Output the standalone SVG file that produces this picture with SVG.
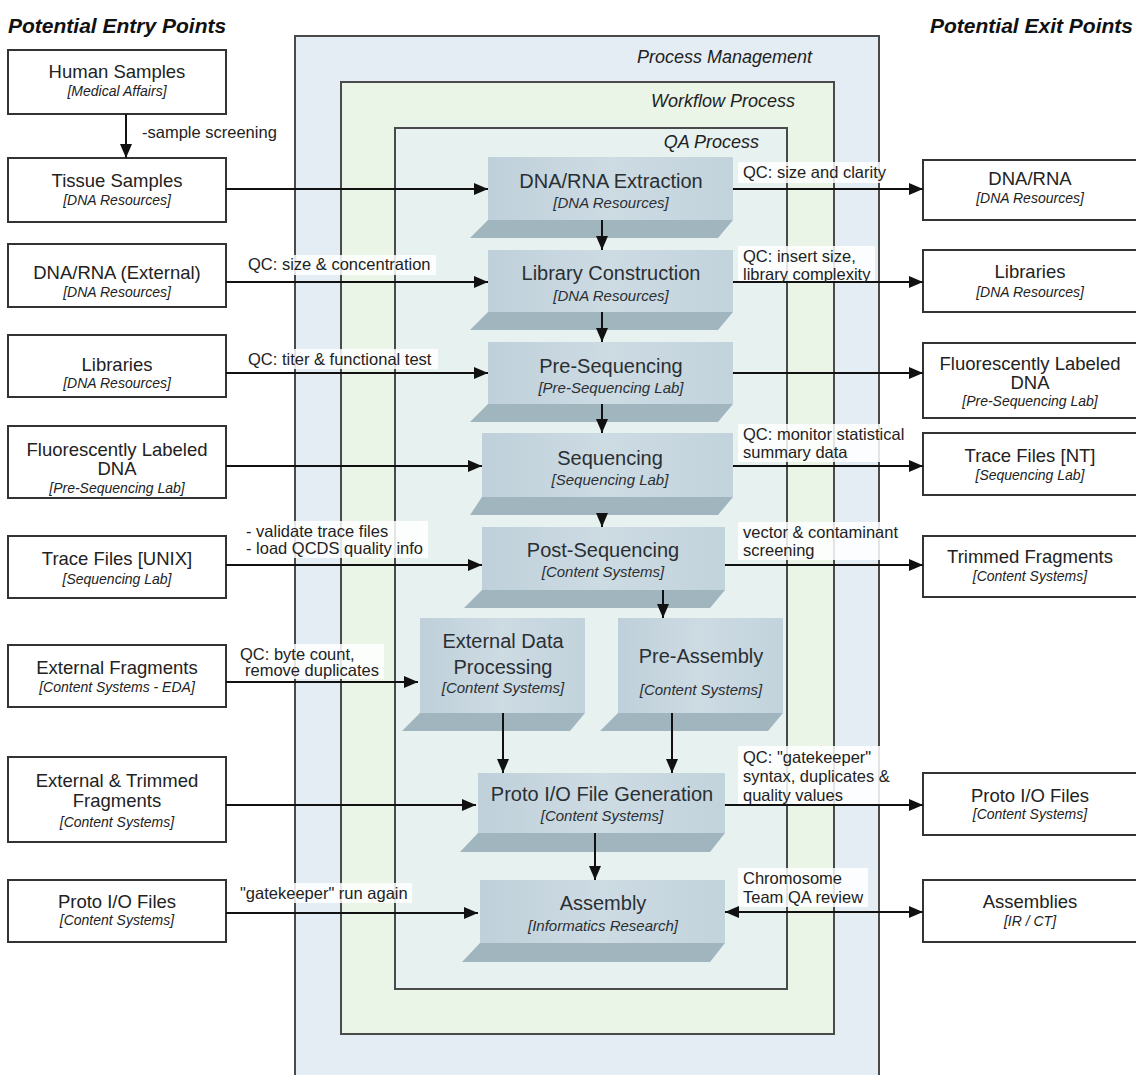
<svg xmlns="http://www.w3.org/2000/svg" width="1136" height="1075" viewBox="0 0 1136 1075">
<defs>
<marker id="ah" viewBox="0 0 14 12" refX="14" refY="6" markerWidth="14" markerHeight="12" orient="auto-start-reverse" markerUnits="userSpaceOnUse"><path d="M0,0 L14,6 L0,12 z" fill="#111"/></marker>
<linearGradient id="face" x1="0" y1="0" x2="1" y2="0"><stop offset="0" stop-color="#bfd0da"/><stop offset="0.5" stop-color="#cddbe3"/><stop offset="1" stop-color="#c2d3dc"/></linearGradient>
</defs>
<style>
text{font-family:"Liberation Sans",Arial,Helvetica,sans-serif;fill:#222}
.hdr{font-size:21px;font-weight:bold;font-style:italic;fill:#111}
.ctl{font-size:18px;font-style:italic;text-anchor:end}
.box{fill:#fff;stroke:#333;stroke-width:2}
.t{font-size:18.5px;text-anchor:middle}
.s{font-size:14px;font-style:italic;text-anchor:middle}
.pt{font-size:20px;text-anchor:middle;fill:#2a2f33}
.ps{font-size:15px;font-style:italic;text-anchor:middle;fill:#2a2f33}
.face{fill:url(#face)}
.shadow{fill:#a1b5bf}
.ln{stroke:#111;stroke-width:2;fill:none;marker-end:url(#ah)}
.lbl{font-size:16.5px}
.bg{fill:#fff;opacity:0.85}
</style>
<rect width="1136" height="1075" fill="#fff"/>
<g id="containers">
<rect x="295" y="36" width="584" height="1060" fill="#e4edf4" stroke="#4a4a4a" stroke-width="2"/>
<rect x="341" y="82" width="493" height="952" fill="#eaf4e7" stroke="#4a4a4a" stroke-width="2"/>
<rect x="395" y="128" width="392" height="861" fill="#e6f1f0" stroke="#4a4a4a" stroke-width="2"/>
<text class="ctl" x="812" y="63">Process Management</text>
<text class="ctl" x="795" y="107">Workflow Process</text>
<text class="ctl" x="759" y="148">QA Process</text>
</g>
<text class="hdr" x="8" y="33">Potential Entry Points</text>
<text class="hdr" x="1133" y="33" text-anchor="end">Potential Exit Points</text>
<g id="label-bgs">
<rect class="bg" x="244" y="255" width="192" height="20"/>
<rect class="bg" x="244" y="349" width="194" height="20"/>
<rect class="bg" x="242" y="521" width="186" height="37"/>
<rect class="bg" x="236" y="644" width="148" height="35"/>
<rect class="bg" x="236" y="883" width="176" height="20"/>
<rect class="bg" x="738" y="162" width="152" height="21"/>
<rect class="bg" x="738" y="246" width="137" height="36"/>
<rect class="bg" x="738" y="424" width="170" height="38"/>
<rect class="bg" x="738" y="522" width="162" height="38"/>
<rect class="bg" x="738" y="746" width="154" height="59"/>
<rect class="bg" x="738" y="868" width="130" height="39"/>
</g>
<g id="entry-human"><rect class="box" x="8" y="50" width="218" height="64"/><text class="t" x="117" y="78">Human Samples</text><text class="s" x="117" y="96">[Medical Affairs]</text></g>
<g id="entry-tissue"><rect class="box" x="8" y="158" width="218" height="64"/><text class="t" x="117" y="187">Tissue Samples</text><text class="s" x="117" y="205">[DNA Resources]</text></g>
<g id="entry-dnarna"><rect class="box" x="8" y="244" width="218" height="63"/><text class="t" x="117" y="279">DNA/RNA (External)</text><text class="s" x="117" y="297">[DNA Resources]</text></g>
<g id="entry-libraries"><rect class="box" x="8" y="335" width="218" height="62"/><text class="t" x="117" y="371">Libraries</text><text class="s" x="117" y="388">[DNA Resources]</text></g>
<g id="entry-fluor"><rect class="box" x="8" y="426" width="218" height="72"/><text class="t" x="117" y="456">Fluorescently Labeled</text><text class="t" x="117" y="475">DNA</text><text class="s" x="117" y="493">[Pre-Sequencing Lab]</text></g>
<g id="entry-trace"><rect class="box" x="8" y="536" width="218" height="62"/><text class="t" x="117" y="565">Trace Files [UNIX]</text><text class="s" x="117" y="584">[Sequencing Lab]</text></g>
<g id="entry-extfrag"><rect class="box" x="8" y="645" width="218" height="62"/><text class="t" x="117" y="674">External Fragments</text><text class="s" x="117" y="692">[Content Systems - EDA]</text></g>
<g id="entry-exttrim"><rect class="box" x="8" y="757" width="218" height="85"/><text class="t" x="117" y="787">External &amp; Trimmed</text><text class="t" x="117" y="807">Fragments</text><text class="s" x="117" y="827">[Content Systems]</text></g>
<g id="entry-proto"><rect class="box" x="8" y="880" width="218" height="62"/><text class="t" x="117" y="908">Proto I/O Files</text><text class="s" x="117" y="925">[Content Systems]</text></g>
<g id="exit-dnarna"><rect class="box" x="923" y="160" width="218" height="60"/><text class="t" x="1030" y="185">DNA/RNA</text><text class="s" x="1030" y="203">[DNA Resources]</text></g>
<g id="exit-libraries"><rect class="box" x="923" y="250" width="218" height="62"/><text class="t" x="1030" y="278">Libraries</text><text class="s" x="1030" y="297">[DNA Resources]</text></g>
<g id="exit-fluor"><rect class="box" x="923" y="343" width="218" height="75"/><text class="t" x="1030" y="370">Fluorescently Labeled</text><text class="t" x="1030" y="389">DNA</text><text class="s" x="1030" y="406">[Pre-Sequencing Lab]</text></g>
<g id="exit-trace"><rect class="box" x="923" y="433" width="218" height="62"/><text class="t" x="1030" y="462">Trace Files [NT]</text><text class="s" x="1030" y="480">[Sequencing Lab]</text></g>
<g id="exit-trimmed"><rect class="box" x="923" y="536" width="218" height="61"/><text class="t" x="1030" y="563">Trimmed Fragments</text><text class="s" x="1030" y="581">[Content Systems]</text></g>
<g id="exit-proto"><rect class="box" x="923" y="773" width="218" height="62"/><text class="t" x="1030" y="802">Proto I/O Files</text><text class="s" x="1030" y="819">[Content Systems]</text></g>
<g id="exit-assemblies"><rect class="box" x="923" y="880" width="218" height="62"/><text class="t" x="1030" y="908">Assemblies</text><text class="s" x="1030" y="926">[IR / CT]</text></g>
<g id="proc-extraction"><polygon class="shadow" points="488,220 733,220 718,238 470,238"/><rect class="face" x="488" y="157" width="245" height="63"/><text class="pt" x="611" y="188">DNA/RNA Extraction</text><text class="ps" x="611" y="208">[DNA Resources]</text></g>
<g id="proc-library"><polygon class="shadow" points="488,312 733,312 718,330 470,330"/><rect class="face" x="488" y="250" width="245" height="62"/><text class="pt" x="611" y="280">Library Construction</text><text class="ps" x="611" y="301">[DNA Resources]</text></g>
<g id="proc-preseq"><polygon class="shadow" points="488,404 733,404 718,422 470,422"/><rect class="face" x="488" y="342" width="245" height="62"/><text class="pt" x="611" y="373">Pre-Sequencing</text><text class="ps" x="611" y="393">[Pre-Sequencing Lab]</text></g>
<g id="proc-seq"><polygon class="shadow" points="482,497 733,497 718,515 470,515"/><rect class="face" x="482" y="433" width="251" height="64"/><text class="pt" x="610" y="465">Sequencing</text><text class="ps" x="610" y="485">[Sequencing Lab]</text></g>
<g id="proc-postseq"><polygon class="shadow" points="482,590 725,590 710,608 464,608"/><rect class="face" x="482" y="527" width="243" height="63"/><text class="pt" x="603" y="557">Post-Sequencing</text><text class="ps" x="603" y="577">[Content Systems]</text></g>
<g id="proc-edp"><polygon class="shadow" points="420,713 585,713 570,731 402,731"/><rect class="face" x="420" y="618" width="165" height="95"/><text class="pt" x="503" y="648">External Data</text><text class="pt" x="503" y="674">Processing</text><text class="ps" x="503" y="693">[Content Systems]</text></g>
<g id="proc-preassembly"><polygon class="shadow" points="618,713 783,713 768,731 600,731"/><rect class="face" x="618" y="618" width="165" height="95"/><text class="pt" x="701" y="663">Pre-Assembly</text><text class="ps" x="701" y="695">[Content Systems]</text></g>
<g id="proc-protogen"><polygon class="shadow" points="478,833 725,833 710,852 460,852"/><rect class="face" x="478" y="773" width="247" height="60"/><text class="pt" x="602" y="801">Proto I/O File Generation</text><text class="ps" x="602" y="821">[Content Systems]</text></g>
<g id="proc-assembly"><polygon class="shadow" points="480,943 725,943 710,962 462,962"/><rect class="face" x="480" y="880" width="245" height="63"/><text class="pt" x="603" y="910">Assembly</text><text class="ps" x="603" y="931">[Informatics Research]</text></g>
<g id="connectors">
<line class="ln" x1="126" y1="114" x2="126" y2="158"/>
<line class="ln" x1="226" y1="189" x2="488" y2="189"/>
<line class="ln" x1="226" y1="282" x2="488" y2="282"/>
<line class="ln" x1="226" y1="373" x2="488" y2="373"/>
<line class="ln" x1="226" y1="466" x2="482" y2="466"/>
<line class="ln" x1="226" y1="565" x2="482" y2="565"/>
<line class="ln" x1="226" y1="682" x2="418" y2="682"/>
<line class="ln" x1="226" y1="805" x2="476" y2="805"/>
<line class="ln" x1="226" y1="913" x2="478" y2="913"/>
<line class="ln" x1="733" y1="189" x2="923" y2="189"/>
<line class="ln" x1="733" y1="282" x2="923" y2="282"/>
<line class="ln" x1="733" y1="373" x2="923" y2="373"/>
<line class="ln" x1="733" y1="466" x2="923" y2="466"/>
<line class="ln" x1="725" y1="565" x2="923" y2="565"/>
<line class="ln" x1="725" y1="805" x2="923" y2="805"/>
<line class="ln" x1="725" y1="912" x2="923" y2="912" style="marker-start:url(#ah)"/>
<line class="ln" x1="602" y1="220" x2="602" y2="250"/>
<line class="ln" x1="602" y1="312" x2="602" y2="342"/>
<line class="ln" x1="602" y1="404" x2="602" y2="433"/>
<line class="ln" x1="602" y1="515" x2="602" y2="527"/>
<line class="ln" x1="663" y1="590" x2="663" y2="618"/>
<line class="ln" x1="503" y1="713" x2="503" y2="773"/>
<line class="ln" x1="672" y1="713" x2="672" y2="773"/>
<line class="ln" x1="595" y1="833" x2="595" y2="880"/>
</g>
<g id="labels">
<text class="lbl" x="142" y="138">-sample screening</text>
<text class="lbl" x="248" y="270">QC: size &amp; concentration</text>
<text class="lbl" x="248" y="365">QC: titer &amp; functional test</text>
<text class="lbl" x="246" y="537">- validate trace files</text>
<text class="lbl" x="246" y="554">- load QCDS quality info</text>
<text class="lbl" x="240" y="660">QC: byte count,</text>
<text class="lbl" x="245" y="676">remove duplicates</text>
<text class="lbl" x="240" y="899">"gatekeeper" run again</text>
<text class="lbl" x="743" y="178">QC: size and clarity</text>
<text class="lbl" x="743" y="262">QC: insert size,</text>
<text class="lbl" x="743" y="280">library complexity</text>
<text class="lbl" x="743" y="440">QC: monitor statistical</text>
<text class="lbl" x="743" y="458">summary data</text>
<text class="lbl" x="743" y="538">vector &amp; contaminant</text>
<text class="lbl" x="743" y="556">screening</text>
<text class="lbl" x="743" y="763">QC: "gatekeeper"</text>
<text class="lbl" x="743" y="782">syntax, duplicates &amp;</text>
<text class="lbl" x="743" y="801">quality values</text>
<text class="lbl" x="743" y="884">Chromosome</text>
<text class="lbl" x="743" y="903">Team QA review</text>
</g>
</svg>
